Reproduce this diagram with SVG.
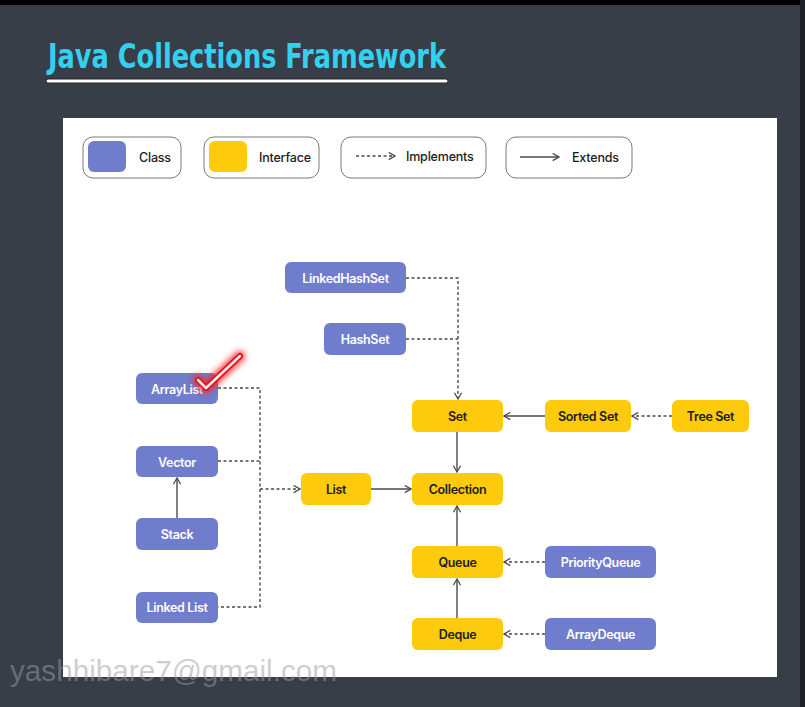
<svg xmlns="http://www.w3.org/2000/svg" width="805" height="707" viewBox="0 0 805 707">
<defs>
<style>
.cls{fill:#6f7dcc}
.ifc{fill:#fecb0c}
.t{font-family:Inter,"Liberation Sans",sans-serif;font-size:12.5px;font-weight:600;letter-spacing:-0.35px;text-anchor:middle;dominant-baseline:central}
.tw{fill:#ffffff}
.tb{fill:#1c1c1c}
.lg{font-family:Inter,"Liberation Sans",sans-serif;font-size:12.5px;font-weight:500;letter-spacing:-0.2px;fill:#1c1c1c;dominant-baseline:central}
.legbox{fill:#ffffff;stroke:#7a7a7a;stroke-width:1}
.dash{fill:none;stroke:#4a4a4a;stroke-width:1.4;stroke-dasharray:3 2.5}
.solid{fill:none;stroke:#4a4a4a;stroke-width:1.4}
</style>
<marker id="ah" viewBox="0 0 10 10" refX="9" refY="5" markerWidth="9" markerHeight="9" markerUnits="userSpaceOnUse" orient="auto">
<path d="M2,1 L9,5 L2,9" fill="none" stroke="#4a4a4a" stroke-width="1.4"/>
</marker>
<filter id="glow" x="-50%" y="-50%" width="200%" height="200%">
<feGaussianBlur stdDeviation="3"/>
</filter>
</defs>
<rect x="0" y="0" width="805" height="707" fill="#383e48"/>
<rect x="0" y="0" width="805" height="5" fill="#000000"/>
<rect x="800" y="0" width="5" height="707" fill="#1e2228"/>
<text x="48" y="68" font-family="'DejaVu Sans Condensed','DejaVu Sans',sans-serif" font-stretch="condensed" font-weight="bold" font-size="34" fill="#33d0f0" textLength="398" lengthAdjust="spacingAndGlyphs">Java Collections Framework</text>
<line x1="48" y1="81" x2="446" y2="81" stroke="#222" stroke-width="5" stroke-linecap="round"/>
<line x1="48" y1="81" x2="446" y2="81" stroke="#ffffff" stroke-width="3" stroke-linecap="round"/>
<rect x="63" y="118" width="714" height="559" fill="#ffffff"/>

<g id="legend">
<rect class="legbox" x="83" y="137" width="98" height="41" rx="10"/>
<rect class="cls" x="88" y="141" width="38" height="31" rx="6"/>
<text class="lg" x="139" y="157">Class</text>
<rect class="legbox" x="204" y="137" width="115" height="41" rx="10"/>
<rect class="ifc" x="209" y="141" width="38" height="31" rx="6"/>
<text class="lg" x="259" y="157">Interface</text>
<rect class="legbox" x="341" y="137" width="145" height="41" rx="10"/>
<line class="dash" x1="356" y1="156" x2="395" y2="156" marker-end="url(#ah)"/>
<text class="lg" x="406" y="156">Implements</text>
<rect class="legbox" x="506" y="137" width="126" height="41" rx="10"/>
<line class="solid" x1="520" y1="157" x2="559" y2="157" marker-end="url(#ah)"/>
<text class="lg" x="572" y="157">Extends</text>
</g>

<g id="connectors">
<polyline class="dash" points="406,278 458,278 458,399" marker-end="url(#ah)"/>
<polyline class="dash" points="406,339 458,339"/>
<polyline class="dash" points="218,388 260,388 260,607 218,607"/>
<polyline class="dash" points="218,461 260,461"/>
<line class="dash" x1="260" y1="489" x2="300" y2="489" marker-end="url(#ah)"/>
<line class="solid" x1="177" y1="518" x2="177" y2="478" marker-end="url(#ah)"/>
<line class="solid" x1="371" y1="489" x2="411" y2="489" marker-end="url(#ah)"/>
<line class="solid" x1="457" y1="432" x2="457" y2="472" marker-end="url(#ah)"/>
<line class="solid" x1="457" y1="546" x2="457" y2="506" marker-end="url(#ah)"/>
<line class="solid" x1="457" y1="618" x2="457" y2="579" marker-end="url(#ah)"/>
<line class="solid" x1="545" y1="416" x2="504" y2="416" marker-end="url(#ah)"/>
<line class="dash" x1="672" y1="416" x2="632" y2="416" marker-end="url(#ah)"/>
<line class="dash" x1="545" y1="562" x2="504" y2="562" marker-end="url(#ah)"/>
<line class="dash" x1="545" y1="634" x2="504" y2="634" marker-end="url(#ah)"/>
</g>

<g id="LinkedHashSet"><rect class="cls" x="285" y="262" width="121" height="31" rx="6"/><text class="t tw" x="345.5" y="278">LinkedHashSet</text></g>
<g id="HashSet"><rect class="cls" x="324" y="323" width="82" height="32" rx="6"/><text class="t tw" x="365" y="339">HashSet</text></g>
<g id="ArrayList"><rect class="cls" x="136" y="373" width="82" height="31" rx="6"/><text class="t tw" x="177" y="389">ArrayList</text></g>
<g id="Vector"><rect class="cls" x="136" y="446" width="82" height="31" rx="6"/><text class="t tw" x="177" y="462">Vector</text></g>
<g id="Stack"><rect class="cls" x="136" y="518" width="82" height="32" rx="6"/><text class="t tw" x="177" y="534">Stack</text></g>
<g id="LinkedList"><rect class="cls" x="136" y="592" width="82" height="31" rx="6"/><text class="t tw" x="177" y="607">Linked List</text></g>
<g id="List"><rect class="ifc" x="301" y="473" width="70" height="32" rx="6"/><text class="t tb" x="336" y="489">List</text></g>
<g id="Collection"><rect class="ifc" x="412" y="473" width="91" height="32" rx="6"/><text class="t tb" x="457.5" y="489">Collection</text></g>
<g id="Set"><rect class="ifc" x="412" y="400" width="91" height="32" rx="6"/><text class="t tb" x="457.5" y="416">Set</text></g>
<g id="SortedSet"><rect class="ifc" x="545" y="400" width="86" height="32" rx="6"/><text class="t tb" x="588" y="416">Sorted Set</text></g>
<g id="TreeSet"><rect class="ifc" x="672" y="400" width="77" height="32" rx="6"/><text class="t tb" x="710.5" y="416">Tree Set</text></g>
<g id="Queue"><rect class="ifc" x="412" y="546" width="91" height="32" rx="6"/><text class="t tb" x="457.5" y="562">Queue</text></g>
<g id="Deque"><rect class="ifc" x="412" y="618" width="91" height="32" rx="6"/><text class="t tb" x="457.5" y="634">Deque</text></g>
<g id="PriorityQueue"><rect class="cls" x="545" y="546" width="111" height="32" rx="6"/><text class="t tw" x="600.5" y="562">PriorityQueue</text></g>
<g id="ArrayDeque"><rect class="cls" x="545" y="618" width="111" height="32" rx="6"/><text class="t tw" x="600.5" y="634">ArrayDeque</text></g>

<g id="tick">
<path d="M198,380 L206,388 L240,356" fill="none" stroke="#ff2020" stroke-width="10" stroke-linecap="round" stroke-linejoin="round" filter="url(#glow)" opacity="0.9"/>
<path d="M198,380 L206,388 L240,356" fill="none" stroke="#e8101a" stroke-width="6" stroke-linecap="round" stroke-linejoin="round"/>
<path d="M198,380 L206,388 L240,356" fill="none" stroke="#fff0f0" stroke-width="2.5" stroke-linecap="round" stroke-linejoin="round"/>
</g>

<text x="10" y="681" font-family="'Liberation Sans',Arial,sans-serif" font-size="30" fill="#9a9ca2" fill-opacity="0.5" textLength="327" lengthAdjust="spacingAndGlyphs">yashhibare7@gmail.com</text>
</svg>
